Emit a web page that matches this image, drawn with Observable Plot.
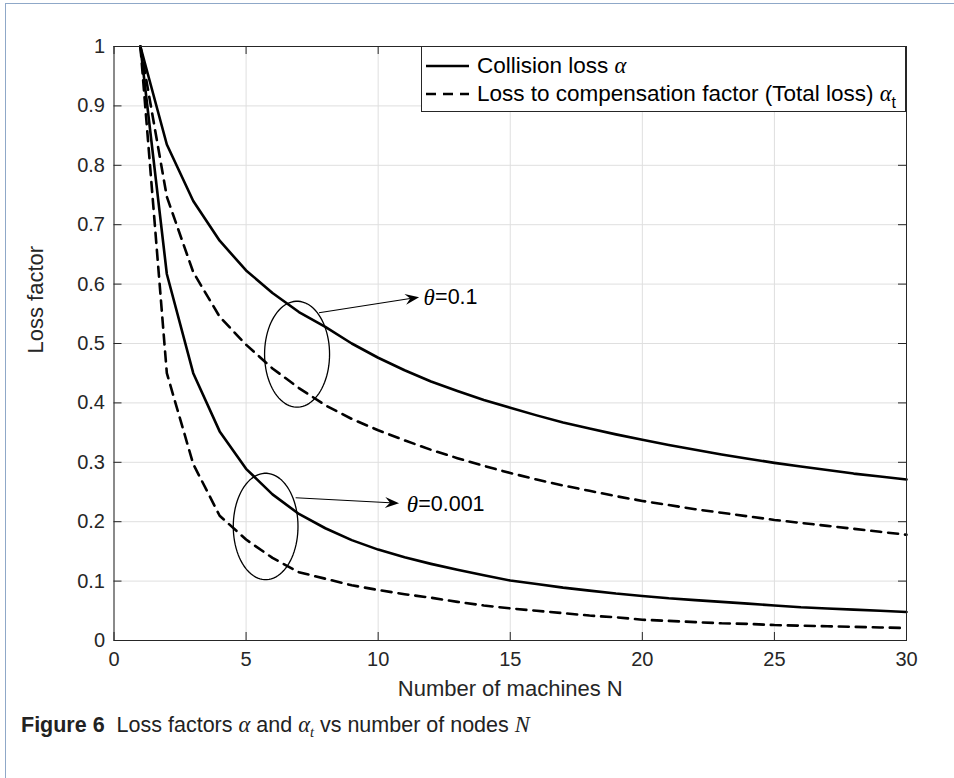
<!DOCTYPE html>
<html>
<head>
<meta charset="utf-8">
<script src="https://cdn.jsdelivr.net/npm/d3@7"></script>
<script src="https://cdn.jsdelivr.net/npm/@observablehq/plot@0.6"></script>
<style>
  body { margin: 0; background: #fff; }
  #page { position: relative; width: 954px; height: 778px; overflow: hidden; background: #fff;
          font-family: "Liberation Sans", Arial, sans-serif; color: #262626; }
  #frameTop { position: absolute; left: 5px; top: 3px; width: 949px; height: 0; border-top: 1.5px solid #8fa8c8; }
  #frameLeft { position: absolute; left: 5px; top: 3px; width: 0; height: 775px; border-left: 1.5px solid #8fa8c8; }
  #chart { position: absolute; left: 0; top: 0; }
  #legend { position: absolute; left: 421px; top: 46px; width: 485px; height: 66px; box-sizing: border-box;
            border: 1px solid #262626; background: #fff; }
  #legend .row { position: absolute; left: 0; height: 26px; width: 100%; }
  #legend svg { position: absolute; left: 0; top: 0; }
  #legend .lab { position: absolute; left: 55px; top: 0; line-height: 26px; font-size: 22.5px; color: #000; white-space: nowrap; }
  .m { font-family: "Liberation Serif", "DejaVu Serif", serif; font-style: italic; }
  .sub { font-size: 16px; position: relative; top: 7px; }
  #caption { position: absolute; left: 21px; top: 712px; font-size: 21.5px; color: #222; white-space: nowrap;
             font-family: "Liberation Sans", Arial, sans-serif; }
  #caption b { font-weight: bold; }
  #caption .m { font-size: 22.5px; }
  #caption .csub { font-size: 14.5px; position: relative; top: 5px; }
</style>
</head>
<body>
<div id="page">
  <div id="frameTop"></div>
  <div id="frameLeft"></div>
  <div id="chart"></div>
  <div id="legend">
    <div class="row" style="top:6px">
      <svg width="52" height="26"><line x1="4" x2="47" y1="13" y2="13" stroke="#000" stroke-width="2.6"/></svg>
      <span class="lab">Collision loss <span class="m">α</span></span>
    </div>
    <div class="row" style="top:34px">
      <svg width="52" height="26"><line x1="4" x2="47" y1="13" y2="13" stroke="#000" stroke-width="2.6" stroke-dasharray="10,7"/></svg>
      <span class="lab">Loss to compensation factor (Total loss) <span class="m">α</span><span class="sub">t</span></span>
    </div>
  </div>
  <div id="caption"><b>Figure 6</b>&nbsp; Loss factors <span class="m">α</span> and <span class="m">α<span class="csub">t</span></span> vs number of nodes <span class="m">N</span></div>
</div>
<script>
// ---- data ----
const machines = [1,2,3,4,5,6,7,8,9,10,11,12,13,14,15,16,17,18,19,20,21,22,23,24,25,26,27,28,29,30];

// theta = 0.1
const collisionTheta01 = [1.000,0.835,0.740,0.673,0.623,0.585,0.553,0.528,0.500,0.476,0.455,0.436,0.420,0.405,0.392,
                          0.379,0.367,0.357,0.347,0.338,0.329,0.321,0.313,0.306,0.299,0.293,0.287,0.281,0.276,0.271];
const totalTheta01     = [1.000,0.747,0.620,0.545,0.498,0.458,0.425,0.396,0.373,0.354,0.337,0.321,0.307,0.294,0.282,
                          0.271,0.261,0.252,0.243,0.235,0.228,0.221,0.215,0.209,0.203,0.198,0.193,0.188,0.183,0.178];
// theta = 0.001
const collisionTheta0001 = [1.000,0.617,0.450,0.352,0.289,0.246,0.213,0.189,0.169,0.153,0.140,0.129,0.119,0.110,0.101,
                            0.095,0.089,0.084,0.079,0.075,0.071,0.068,0.065,0.062,0.059,0.056,0.054,0.052,0.050,0.048];
const totalTheta0001     = [1.000,0.450,0.297,0.210,0.170,0.139,0.115,0.104,0.093,0.085,0.078,0.072,0.065,0.059,0.054,
                            0.050,0.046,0.042,0.039,0.035,0.033,0.031,0.029,0.028,0.026,0.025,0.024,0.023,0.022,0.021];

const xTicks = [0,5,10,15,20,25,30];
const yTicks = [0,0.1,0.2,0.3,0.4,0.5,0.6,0.7,0.8,0.9,1];
const yTickLabels = ["0","0.1","0.2","0.3","0.4","0.5","0.6","0.7","0.8","0.9","1"];

// annotations: ellipse (center, radii in data units), arrow from/to, label
const annoTheta   = ["0.1", "0.001"];
const annoCx      = [6.93, 5.74];
const annoCy      = [0.482, 0.192];
const annoRx      = [1.23, 1.225];
const annoRy      = [0.0892, 0.0896];
const arrowFromX  = [7.76, 6.875];
const arrowFromY  = [0.5517, 0.2402];
const arrowToX    = [11.55, 10.79];
const arrowToY    = [0.578, 0.2311];
const labelX      = [11.72, 11.08];
const labelY      = [0.578, 0.229];

// ---- build tables ----
const rows = [];
function addSeries(key, kind, values) {
  values.forEach((v, i) => rows.push({N: machines[i], v, key, kind}));
}
addSeries("c01", "collision", collisionTheta01);
addSeries("t01", "total", totalTheta01);
addSeries("c0001", "collision", collisionTheta0001);
addSeries("t0001", "total", totalTheta0001);

const W = 954, H = 700, mL = 113.5, mR = 48, mT = 46, mB = 60;
const fw = W - mL - mR, fh = H - mT - mB, tick = 8;
const pxX = fw / 30, pxY = fh / 1;

const ellipsePts = [];
annoTheta.forEach((t, k) => {
  for (let i = 0; i <= 90; i++) {
    const a = (i / 90) * 2 * Math.PI;
    ellipsePts.push({k, x: annoCx[k] + annoRx[k] * Math.cos(a), y: annoCy[k] + annoRy[k] * Math.sin(a)});
  }
});
const arrows = annoTheta.map((t, k) => ({x1: arrowFromX[k], y1: arrowFromY[k], x2: arrowToX[k], y2: arrowToY[k]}));
const labels = annoTheta.map((t, k) => ({x: labelX[k], y: labelY[k], t: "=" + t}));

// filled, swept-back arrowhead symbol (tip at origin) oriented along each arrow
function headSymbol(a) {
  const ang = Math.atan2(-(a.y2 - a.y1) * pxY, (a.x2 - a.x1) * pxX);
  const c = Math.cos(ang), s = Math.sin(ang);
  const P = (u, v) => [u * c - v * s, u * s + v * c];
  const pts = [P(0, 0), P(-14, -5.5), P(-9, 0), P(-14, 5.5)];
  return {draw(ctx) {
    ctx.moveTo(...pts[0]); ctx.lineTo(...pts[1]); ctx.lineTo(...pts[2]); ctx.lineTo(...pts[3]); ctx.closePath();
  }};
}
const shafts = arrows.map(a => {
  const dx = (a.x2 - a.x1) * pxX, dy = (a.y2 - a.y1) * pxY, L = Math.hypot(dx, dy), f = (L - 9) / L;
  return {x1: a.x1, y1: a.y1, x2: a.x1 + (a.x2 - a.x1) * f, y2: a.y1 + (a.y2 - a.y1) * f};
});

const chart = Plot.plot({
  width: W, height: H,
  marginLeft: mL, marginRight: mR, marginTop: mT, marginBottom: mB,
  x: {domain: [0, 30]},
  y: {domain: [0, 1]},
  style: {fontFamily: "'Liberation Sans', Arial, sans-serif", color: "#262626", background: "transparent", overflow: "visible"},
  marks: [
    Plot.gridX(xTicks, {stroke: "#dfdfdf", strokeOpacity: 1, strokeWidth: 1}),
    Plot.gridY(yTicks, {stroke: "#dfdfdf", strokeOpacity: 1, strokeWidth: 1}),
    Plot.line(rows.filter(d => d.kind === "collision"), {x: "N", y: "v", z: "key", stroke: "#000", strokeWidth: 2.6}),
    Plot.line(rows.filter(d => d.kind === "total"), {x: "N", y: "v", z: "key", stroke: "#000", strokeWidth: 2.6, strokeDasharray: "10,7"}),
    Plot.line(ellipsePts, {x: "x", y: "y", z: "k", stroke: "#000", strokeWidth: 1.3, curve: "linear"}),
    Plot.link(shafts, {x1: "x1", y1: "y1", x2: "x2", y2: "y2", stroke: "#000", strokeWidth: 1.1}),
    Plot.dot([arrows[0]], {x: "x2", y: "y2", symbol: headSymbol(arrows[0]), fill: "#000", stroke: "none", r: 6}),
    Plot.dot([arrows[1]], {x: "x2", y: "y2", symbol: headSymbol(arrows[1]), fill: "#000", stroke: "none", r: 6}),
    Plot.text(labels, {x: "x", y: "y", text: () => "θ", textAnchor: "start", fontSize: 23, fontStyle: "italic",
                       fontFamily: "'Liberation Serif', 'DejaVu Serif', serif", fill: "#000"}),
    Plot.text(labels, {x: "x", y: "y", text: "t", textAnchor: "start", dx: 11.5, fontSize: 21.5, fill: "#000"}),
    // inward tick marks on all four sides
    Plot.ruleX(xTicks, {y1: 1, y2: 0, insetTop: fh - tick, stroke: "#262626"}),
    Plot.ruleX(xTicks, {y1: 1, y2: 0, insetBottom: fh - tick, stroke: "#262626"}),
    Plot.ruleY(yTicks, {x1: 0, x2: 30, insetRight: fw - tick, stroke: "#262626"}),
    Plot.ruleY(yTicks, {x1: 0, x2: 30, insetLeft: fw - tick, stroke: "#262626"}),
    Plot.frame({stroke: "#262626", strokeWidth: 1}),
    Plot.axisX(xTicks, {tickSize: 0, tickPadding: 11, fontSize: 20, label: null, tickFormat: d => String(d)}),
    Plot.axisY(yTicks, {tickSize: 0, tickPadding: 9, fontSize: 20, label: null, tickFormat: (d, i) => yTickLabels[i]}),
    Plot.text(["Number of machines N"], {frameAnchor: "bottom", text: d => d, dy: 48, fontSize: 22, lineAnchor: "middle"}),
    Plot.text(["Loss factor"], {frameAnchor: "left", text: d => d, rotate: -90, dx: -78, dy: 10, fontSize: 22, lineAnchor: "middle"})
  ]
});
document.getElementById("chart").appendChild(chart);
</script>
</body>
</html>
